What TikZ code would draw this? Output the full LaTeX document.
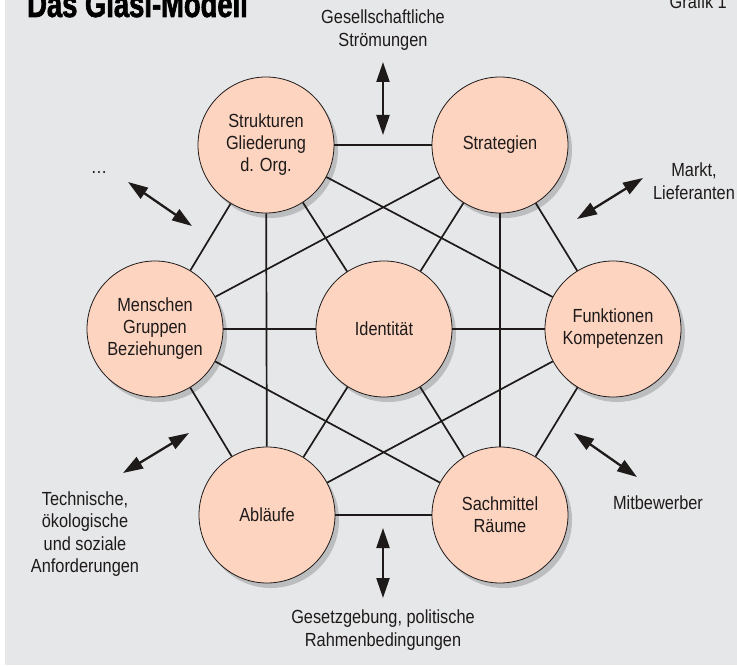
\documentclass[tikz,border=0pt]{standalone}
\usepackage{fontspec}
\setmainfont{Liberation Sans}[FakeStretch=0.86]
\newfontfamily\titlefont{Liberation Sans}[FakeStretch=0.74,BoldFeatures={FakeBold=1.6}]
\usetikzlibrary{arrows.meta,shadows}

\definecolor{bggray}{HTML}{E6E7E9}
\definecolor{peach}{HTML}{FDD4C0}
\definecolor{ink}{HTML}{1E1A1A}

\begin{document}
\begin{tikzpicture}[x=1pt,y=-1pt,
    field/.style={circle,draw=ink,line width=0.8pt,fill=peach,
                  minimum size=136pt,inner sep=0pt,align=center,text=ink,
                  font=\fontsize{19}{22}\selectfont,
                  drop shadow={shadow xshift=4pt,shadow yshift=-5pt,
                               opacity=0.18,fill=black}},
    link/.style={draw=ink,line width=1.7pt},
    influence/.style={draw=ink,line width=2.3pt,
                      {Triangle[width=13pt,length=20pt]}-{Triangle[width=13pt,length=20pt]}},
    outer/.style={align=center,text=ink,font=\fontsize{19}{22.5}\selectfont}]
      \useasboundingbox (0,0) rectangle (737,666);
      \fill[white]  (0,0) rectangle (737,666);
      \fill[bggray] (5,0) rectangle (737,665);

      \node[anchor=base west,text=black,inner sep=0pt,
            font=\titlefont\bfseries\fontsize{37}{37}\selectfont] (title) at (27,17) {Das Glasi-Modell};
      \node[anchor=base east,outer,inner sep=0pt] (grafik) at (727,9) {Grafik 1};

      \node[field] (struktur)   at (266,145) {Strukturen\\Gliederung\\d. Org.};
      \node[field] (strategie)  at (500,145) {Strategien};
      \node[field] (mensch)     at (155,329) {Menschen\\Gruppen\\Beziehungen};
      \node[field] (identitaet) at (384,329) {Identität};
      \node[field] (funktion)   at (613,329) {Funktionen\\Kompetenzen};
      \node[field] (ablauf)     at (267,515) {Abläufe};
      \node[field] (sachmittel) at (500,515) {Sachmittel\\Räume};

      \path[link] (struktur)   edge (strategie)
                  (struktur)   edge (mensch)
                  (struktur)   edge (identitaet)
                  (struktur)   edge (funktion)
                  (struktur)   edge (ablauf)
                  (strategie)  edge (mensch)
                  (strategie)  edge (identitaet)
                  (strategie)  edge (funktion)
                  (strategie)  edge (sachmittel)
                  (mensch)     edge (identitaet)
                  (mensch)     edge (ablauf)
                  (mensch)     edge (sachmittel)
                  (identitaet) edge (funktion)
                  (identitaet) edge (ablauf)
                  (identitaet) edge (sachmittel)
                  (funktion)   edge (ablauf)
                  (funktion)   edge (sachmittel)
                  (ablauf)     edge (sachmittel);

      \node[outer] (gesellschaft) at (383,30)  {Gesellschaftliche\\Strömungen};
      \node[outer] (sonstiges)    at (99,172)  {\dots};
      \node[outer] (markt)        at (694,181) {Markt,\\Lieferanten};
      \node[outer] (mitbewerber)  at (658,503) {Mitbewerber};
      \node[outer] (technik)      at (85,534)  {Technische,\\ökologische\\und soziale\\Anforderungen};
      \node[outer] (gesetz)       at (383,630) {Gesetzgebung, politische\\Rahmenbedingungen};

      \coordinate (top-a)   at (383,62);   \coordinate (top-b)   at (383,135);
      \coordinate (dots-a)  at (128,182);  \coordinate (dots-b)  at (192,226);
      \coordinate (markt-a) at (577,219);  \coordinate (markt-b) at (643,178);
      \coordinate (tech-a)  at (123,473);  \coordinate (tech-b)  at (189,433);
      \coordinate (mitb-a)  at (574,433);  \coordinate (mitb-b)  at (637,477);
      \coordinate (ges-a)   at (383,528);  \coordinate (ges-b)   at (383,598);

      \draw[influence] (top-a)   -- (top-b);
      \draw[influence] (dots-a)  -- (dots-b);
      \draw[influence] (markt-a) -- (markt-b);
      \draw[influence] (tech-a)  -- (tech-b);
      \draw[influence] (mitb-a)  -- (mitb-b);
      \draw[influence] (ges-a)   -- (ges-b);
\end{tikzpicture}
\end{document}
